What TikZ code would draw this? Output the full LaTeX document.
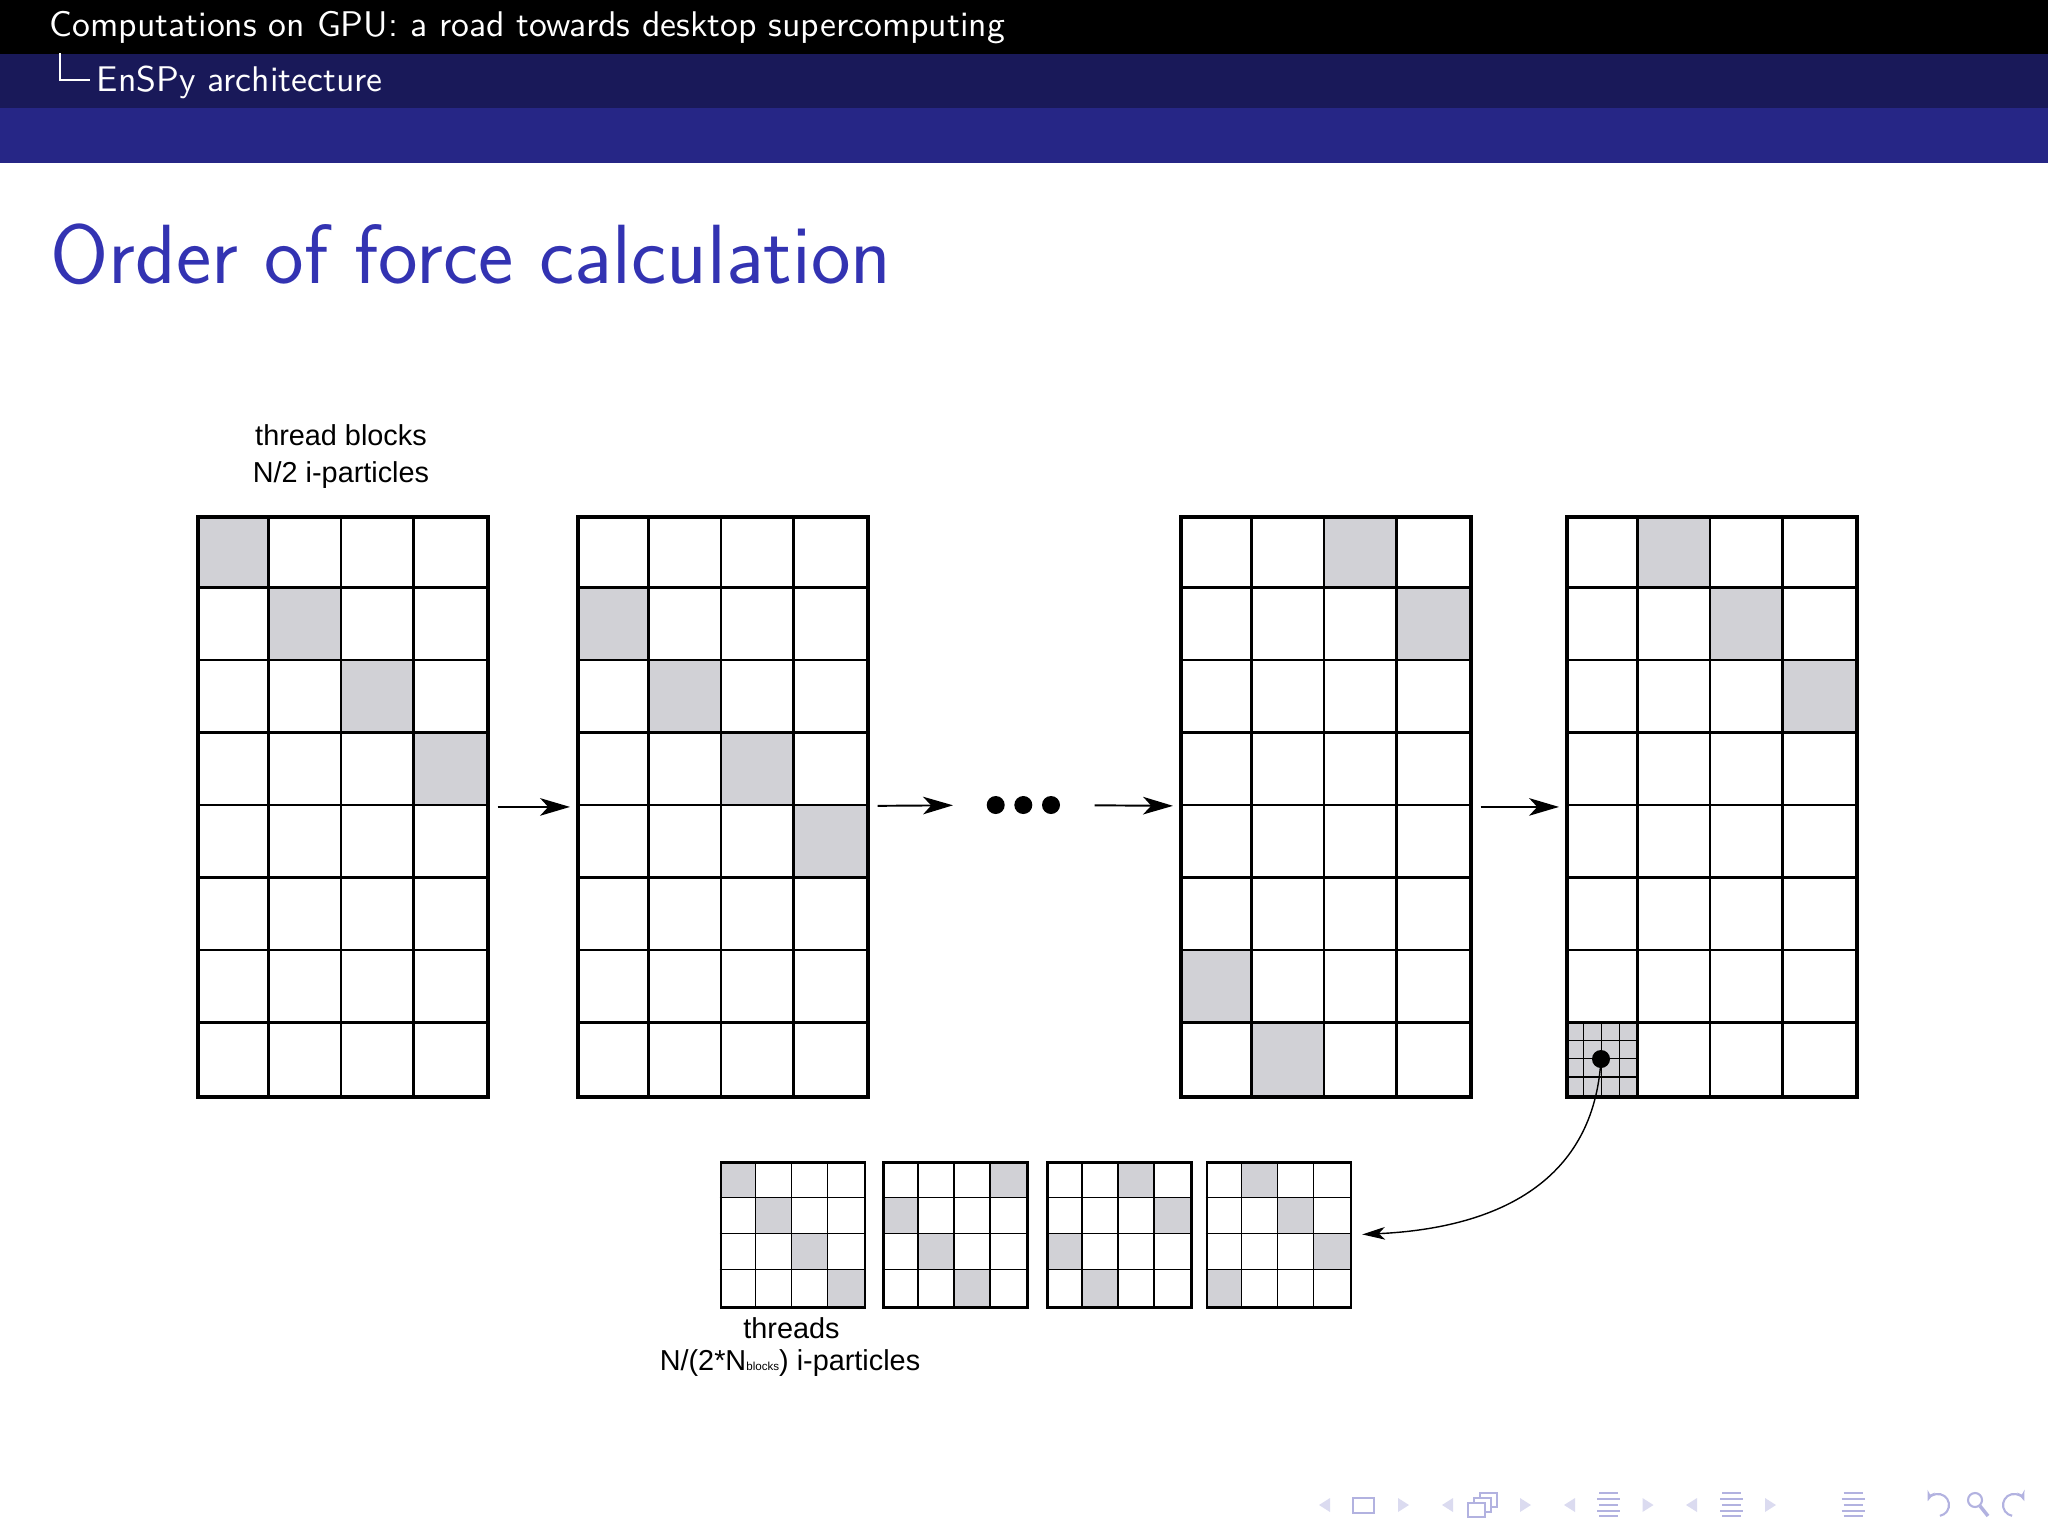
\documentclass[tikz,border=0pt]{standalone}
\usepackage{fontspec}
\newfontfamily\arialfont{Liberation Sans}
\usepackage{xcolor}
\usetikzlibrary{arrows.meta,shapes,calc}
\definecolor{beamerblue}{rgb}{0.2,0.2,0.7}
\definecolor{bandtwo}{rgb}{0.1,0.1,0.35}
\definecolor{bandthree}{rgb}{0.15,0.15,0.525}
\definecolor{cellgray}{rgb}{0.82,0.82,0.84}
\definecolor{navcol}{rgb}{0.7,0.7,0.88}
\definecolor{navdim}{rgb}{0.86,0.86,0.94}

\begin{document}
\begin{tikzpicture}[x=0.01cm, y=-0.01cm,
  bigbox/.style={draw, line width=1pt, minimum width=2.9cm, minimum height=5.8cm, inner sep=0, anchor=north west},
  smallbox/.style={draw, line width=0.75pt, minimum width=1.44cm, minimum height=1.45cm, inner sep=0, anchor=north west},
  cellline/.style={line width=0.6pt},
  fineline/.style={line width=0.35pt},
  arr/.style={line width=0.55pt, -{Stealth[length=8.5pt, width=5pt, inset=2.3pt]}, shorten <=0.08cm, shorten >=0.06cm},
  curvearr/.style={line width=0.4pt, -{Stealth[length=6.5pt, width=3.6pt, inset=1.8pt]}, shorten >=0.1cm},
  lbl/.style={font=\arialfont\fontsize{8.2}{10}\selectfont, anchor=base, inner sep=0},
  dot/.style={circle, fill, inner sep=0, minimum size=0.18cm},
  nav/.style={draw=navcol, line width=0.6pt}]
\useasboundingbox (0,0) rectangle (2048,1536);
% header bands
\fill[black] (0,0) rectangle (2048,54);
\fill[bandtwo] (0,54) rectangle (2048,108);
\fill[bandthree] (0,108) rectangle (2048,163);
\node[anchor=base west, inner sep=0, text=white, font=\sffamily\fontsize{10.15}{12}\selectfont] (hd1) at (49,36) {Computations on GPU: a road towards desktop supercomputing};
\draw[white, line width=0.5pt] (60,53) |- (90,80);
\node[anchor=base west, inner sep=0, text=white, font=\sffamily\fontsize{10.15}{12}\selectfont] (hd2) at (96,91) {EnSPy architecture};
\node[anchor=base west, inner sep=0, text=beamerblue, font=\sffamily\fontsize{23.9}{27}\selectfont] (ttl) at (50,283) {Order of force calculation};

% thread blocks
\foreach \n/\gx/\cells in {1/196/{0/0,1/1,2/2,3/3}, 2/576/{0/1,1/2,2/3,3/4}, 3/1179/{2/0,3/1,0/6,1/7}, 4/1565/{1/0,2/1,3/2,0/7}}{
  \foreach \c/\r in \cells
    \fill[cellgray] (\gx+\c*72.5,515+\r*72.5) rectangle +(72.5,72.5);
  \foreach \i in {1,2,3}
    \draw[cellline] (\gx+\i*72.5,515) -- +(0,580);
  \foreach \i in {1,...,7}
    \draw[cellline] (\gx,515+\i*72.5) -- +(290,0);
  \node[bigbox] (b\n) at (\gx,515) {};
}
% threads inside one block
\foreach \i in {1,2,3}{
  \draw[fineline] (1565+\i*18.125,1022.5) -- +(0,72.5);
  \draw[fineline] (1565,1022.5+\i*18.125) -- +(72.5,0);
}
\node[dot] (p) at (1601,1059) {};

% threads
\foreach \n/\sx/\cells in {1/719.5/{0/0,1/1,2/2,3/3}, 2/882/{3/0,0/1,1/2,2/3}, 3/1046/{2/0,3/1,0/2,1/3}, 4/1205.5/{1/0,2/1,3/2,0/3}}{
  \foreach \c/\r in \cells
    \fill[cellgray] (\sx+\c*36,1161+\r*36.25) rectangle +(36,36.25);
  \foreach \i in {1,2,3}{
    \draw[fineline] (\sx+\i*36,1161) -- +(0,145);
    \draw[fineline] (\sx,1161+\i*36.25) -- +(144,0);
  }
  \node[smallbox] (s\n) at (\sx,1161) {};
}

\node[dot] (d1) at (995.7,805) {};
\node[dot] (d2) at (1023.3,805) {};
\node[dot] (d3) at (1051,805) {};
\draw[arr] (b1) -- (b2);
\draw[arr, shorten >=0.33cm] (b2) -- (d1);
\draw[arr, shorten <=0.34cm] (d3) -- (b3);
\draw[arr] (b3) -- (b4);
\draw[curvearr] (p.center) .. controls (1594,1180) and (1500,1228) .. (s4.east);

\node[lbl] (lb1) at (341,445.7) {thread blocks};
\node[lbl] (lb2) at (341,482.7) {N/2 i-particles};
\node[lbl] (lt1) at (791.5,1338.5) {threads};
\node[lbl] (lt2) at (790,1370) {N/(2*N{\fontsize{3.3}{4}\selectfont blocks}) i-particles};

% navigation symbols
\foreach \x in {1319,1442,1564,1686}
  \fill[navdim] (\x+11,1498) -- (\x+11,1512) -- (\x,1505) -- cycle;
\foreach \x in {1398,1520,1642.5,1765}
  \fill[navdim] (\x,1498) -- (\x,1512) -- (\x+11,1505) -- cycle;
\draw[nav] (1353,1498) rectangle (1374,1513);
\draw[nav, fill=white] (1480,1493) rectangle (1497,1507);
\draw[nav, fill=white] (1474,1498) rectangle (1491,1512);
\draw[nav, fill=white] (1468,1503) rectangle (1485,1517);
\foreach \x in {1597,1720,1841.5}{
  \foreach \yy/\w in {1493/2,1499/0,1505/2,1511/0,1516/2}
    \draw[navcol, line width=0.7pt] (\x+\w,\yy) -- (\x+23-\w,\yy);
}
\draw[nav, -{Stealth[length=3pt]}] (1939.9,1515.8) arc[start angle=80, end angle=-160, radius=11];
\draw[nav] (1975,1500) circle[radius=7];
\draw[navcol, line width=1pt] (1980,1506) -- (1988,1516);
\draw[nav, -{Stealth[length=3pt]}] (2012.1,1515.8) arc[start angle=100, end angle=340, radius=11];
\end{tikzpicture}
\end{document}
